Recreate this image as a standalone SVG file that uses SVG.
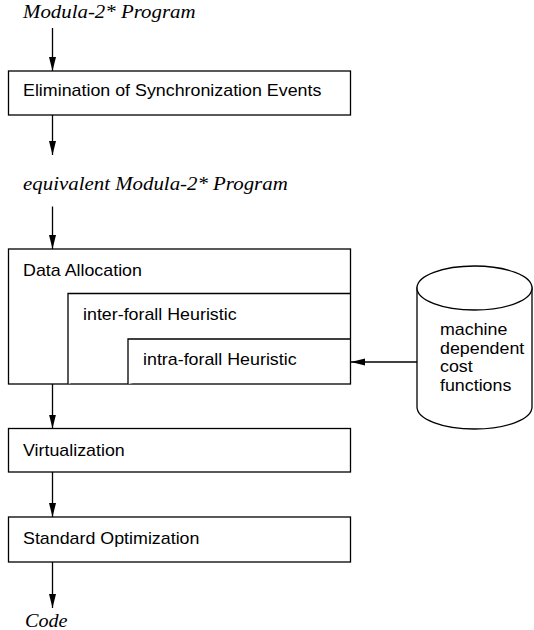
<svg xmlns="http://www.w3.org/2000/svg" width="534" height="630" viewBox="0 0 534 630">
<style>
.box{fill:#fff;stroke:#000;stroke-width:1.3}
.lbl{font-family:"Liberation Sans",Arial,sans-serif;font-size:16px;fill:#000}
.it{font-family:"Liberation Serif","Times New Roman",serif;font-style:italic;font-size:18px;fill:#000}
.con{stroke:#000;stroke-width:1.3;fill:none}
</style>
<defs>
<marker id="ah" markerUnits="userSpaceOnUse" markerWidth="14" markerHeight="8" refX="14" refY="3.5" orient="auto">
<path d="M0,0 L14,3.5 L0,7 z" fill="#000"/>
</marker>
</defs>
<g id="src"><text class="it" transform="translate(23,18) scale(1.16,1)">Modula-2* Program</text></g>
<g id="elim"><rect class="box" x="8.5" y="71" width="342" height="44"/><text class="lbl" transform="translate(23,96) scale(1.115,1)">Elimination of Synchronization Events</text></g>
<g id="equiv"><text class="it" transform="translate(23,190) scale(1.16,1)">equivalent Modula-2* Program</text></g>
<g id="dataalloc">
<rect class="box" x="8.5" y="249" width="342" height="135"/>
<text class="lbl" transform="translate(23,276) scale(1.115,1)">Data Allocation</text>
</g>
<g id="inter">
<path class="box" d="M68,384 L68,293.5 L350.5,293.5"/>
<text class="lbl" transform="translate(83,320) scale(1.115,1)">inter-forall Heuristic</text>
</g>
<g id="intra">
<path class="box" d="M128,384 L128,339 L350.5,339"/>
<text class="lbl" transform="translate(143,365) scale(1.115,1)">intra-forall Heuristic</text>
</g>
<g id="cost">
<path class="box" d="M417,288 L417,407 A57.5,22 0 0 0 532,407 L532,288 Z"/>
<ellipse class="box" cx="474.5" cy="288" rx="57.5" ry="22"/>
<text class="lbl" transform="translate(440,335) scale(1.115,1)">machine</text>
<text class="lbl" transform="translate(440,353.5) scale(1.115,1)">dependent</text>
<text class="lbl" transform="translate(440,372) scale(1.115,1)">cost</text>
<text class="lbl" transform="translate(440,390.5) scale(1.115,1)">functions</text>
</g>
<g id="virt"><rect class="box" x="8.5" y="428.5" width="342" height="43.5"/><text class="lbl" transform="translate(23,456) scale(1.115,1)">Virtualization</text></g>
<g id="stdopt"><rect class="box" x="8.5" y="517" width="342" height="45"/><text class="lbl" transform="translate(23,543.5) scale(1.115,1)">Standard Optimization</text></g>
<g id="code"><text class="it" transform="translate(25,627) scale(1.12,1)">Code</text></g>
<g id="connectors">
<line class="con" x1="52.5" y1="28" x2="52.5" y2="71" marker-end="url(#ah)"/>
<line class="con" x1="52.5" y1="115" x2="52.5" y2="155" marker-end="url(#ah)"/>
<line class="con" x1="52.5" y1="206.5" x2="52.5" y2="249" marker-end="url(#ah)"/>
<line class="con" x1="52.5" y1="384" x2="52.5" y2="428.5" marker-end="url(#ah)"/>
<line class="con" x1="52.5" y1="472" x2="52.5" y2="517" marker-end="url(#ah)"/>
<line class="con" x1="52.5" y1="562" x2="52.5" y2="608" marker-end="url(#ah)"/>
<line class="con" x1="417" y1="362" x2="351" y2="362" marker-end="url(#ah)"/>
</g>
</svg>
